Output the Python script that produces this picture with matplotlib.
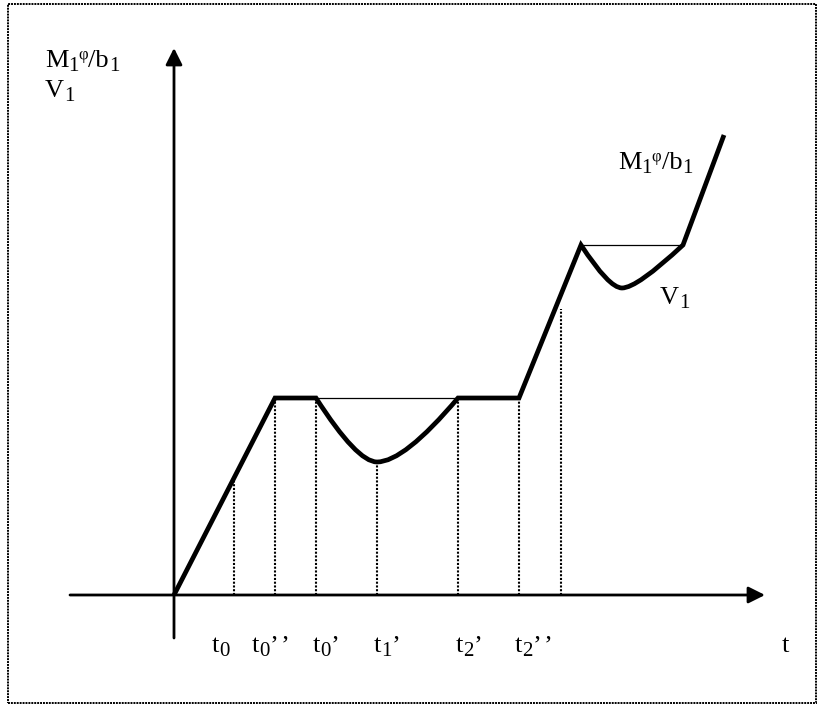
import matplotlib
matplotlib.use('Agg')
import matplotlib.pyplot as plt
from matplotlib.path import Path
from matplotlib.patches import PathPatch, Rectangle

plt.rcParams['font.family'] = ['Liberation Serif', 'DejaVu Serif']

# thick M/b curve: knots (t, value) and how each knot is reached
curve_t = [0, 10.1, 14.2, 18.3, 20.3, 23.0, 28.4, 34.5, 40.7, 43.5, 44.8, 46.3, 50.9, 55.0]
curve_v = [0, 19.7, 19.7, 13.3, 13.3, 13.3, 19.7, 19.7, 35.0, 30.7, 30.7, 30.7, 35.0, 46.0]
curve_codes = [Path.MOVETO, Path.LINETO, Path.LINETO,
               Path.CURVE3, Path.CURVE3, Path.CURVE3, Path.CURVE3,
               Path.LINETO, Path.LINETO,
               Path.CURVE3, Path.CURVE3, Path.CURVE3, Path.CURVE3,
               Path.LINETO]

# thin chords over the two dips
chord_v = [19.7, 35.0]
chord_from = [14.2, 40.7]
chord_to = [28.4, 50.9]

# dotted drop lines
drop_t = [6.0, 10.1, 14.2, 20.3, 28.4, 34.5, 38.7]
drop_top = [11.7, 19.7, 19.7, 13.3, 19.7, 19.7, 28.6]

# time labels under the axis: base, subscript, number of primes
tick_base = ['t', 't', 't', 't', 't', 't', 't']
tick_sub = ['0', '0', '0', '1', '2', '2', '']
tick_primes = [0, 2, 1, 1, 1, 2, 0]
tick_pos = [3.8, 7.8, 13.9, 20.0, 28.2, 34.1, 60.8]

FS = 19      # main text size
FS_SUB = 15  # subscript size
FS_SUP = 12  # superscript size

fig = plt.figure(figsize=(8.18, 7.05), dpi=100)
ax = fig.add_axes([0, 0, 1, 1])
ax.set_xlim(-17.4, 64.4)
ax.set_ylim(-11.0, 59.5)
ax.axis('off')
renderer = fig.canvas.get_renderer()


def rich(x, y, pieces):
    # pieces: (text, size, vertical shift px, extra gap px); 10 px per data unit
    for s, size, dy, gap in pieces:
        if not s:
            continue
        t = ax.text(x, y + dy / 10, s, fontsize=size, ha='left', va='baseline')
        x += (t.get_window_extent(renderer).width + gap) / 10


# axes with arrows
arrow = dict(arrowstyle='-|>,head_length=1.0,head_width=0.5', lw=2.0,
             color='black', shrinkA=0, shrinkB=0, mutation_scale=10)
ax.annotate('', xy=(59.1, 0), xytext=(-10.4, 0), arrowprops=arrow)
ax.annotate('', xy=(0, 54.7), xytext=(0, -4.3), arrowprops=arrow)

ax.vlines(drop_t, 0, drop_top, colors='black', linestyles=(0, (1, 0.8)), lw=1.5)
ax.hlines(chord_v, chord_from, chord_to, colors='black', lw=0.9)

path = Path(list(zip(curve_t, curve_v)), curve_codes)
ax.add_patch(PathPatch(path, facecolor='none', edgecolor='black', lw=3.4,
                       joinstyle='miter', capstyle='butt'))

for b, s, n, x in zip(tick_base, tick_sub, tick_primes, tick_pos):
    pieces = [(b, FS, 0, 0), (s, FS_SUB, -4, 0)]
    pieces += [('’', FS, 0, 2)] * n
    rich(x, -5.7, pieces)

m_pieces = [('M', FS, 0, 0), ('1', FS_SUB, -4, 0), ('φ', FS_SUP, 8, 0),
            ('/b', FS, 0, 0), ('1', FS_SUB, -4, 0)]
v_pieces = [('V', FS, 0, 0), ('1', FS_SUB, -4, 0)]
rich(-12.9, 52.8, m_pieces)
rich(-12.9, 49.8, v_pieces)
rich(44.4, 42.6, m_pieces)
rich(48.6, 29.1, v_pieces)

# dotted frame round the drawing
fig.patches.append(Rectangle((8 / 818, 2 / 705), 808 / 818, 699 / 705,
                             transform=fig.transFigure, fill=False,
                             edgecolor='black', lw=1.4, linestyle=(0, (1, 0.5))))

fig.savefig('out.png', dpi=100)
